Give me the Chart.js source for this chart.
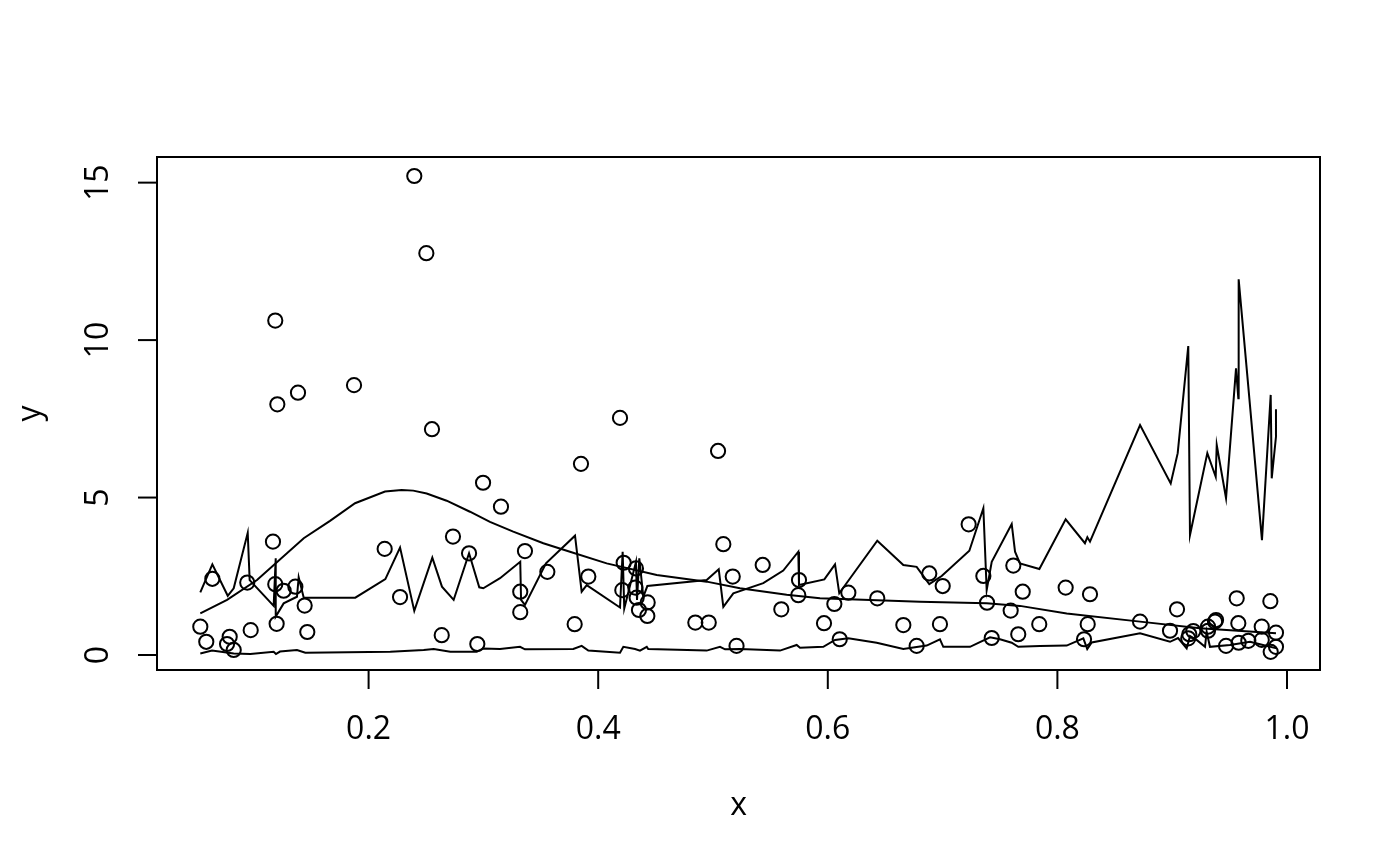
<!DOCTYPE html>
<html>
<head>
<meta charset="utf-8">
<script src="https://cdn.jsdelivr.net/npm/chart.js@4.4.1/dist/chart.umd.min.js"></script>
<style>
  html, body { margin: 0; padding: 0; background: #fff; }
  canvas { display: block; }
</style>
</head>
<body>
<canvas id="plot" width="1400" height="866"></canvas>
<script>
// observed points
const pointX = [0.2398, 0.2503, 0.1187, 0.1205, 0.1385, 0.1873, 0.2552, 0.4190, 0.5044, 0.3850,
  0.2997, 0.3153, 0.7227, 0.2735, 0.1167, 0.2140, 0.3362, 0.5090, 0.2875, 0.0639,
  0.0943, 0.1187, 0.1260, 0.1362, 0.1443, 0.2274, 0.0534, 0.0586, 0.0790, 0.0767,
  0.0825, 0.0973, 0.1199, 0.1466, 0.2637, 0.3321, 0.3557, 0.3321, 0.3914, 0.3795,
  0.4222, 0.4329, 0.4210, 0.4323, 0.4335, 0.4431, 0.4355, 0.4428, 0.4846, 0.4963,
  0.5172, 0.2947, 0.5205, 0.5433, 0.5749, 0.5743, 0.5595, 0.6057, 0.5967, 0.6179,
  0.6431, 0.6104, 0.6658, 0.6977, 0.6774, 0.6884, 0.7001, 0.7355, 0.7387, 0.7593,
  0.7616, 0.7428, 0.7659, 0.7698, 0.7842, 0.8072, 0.8284, 0.8264, 0.8232, 0.8720,
  0.9042, 0.8981, 0.9149, 0.9140, 0.9184, 0.9312, 0.9312, 0.9382, 0.9373, 0.9469,
  0.9562, 0.9576, 0.9579, 0.9663, 0.9780, 0.9780, 0.9855, 0.9904, 0.9904, 0.9858];
const pointY = [15.21, 12.76, 10.62, 7.96, 8.33, 8.57, 7.17, 7.53, 6.48, 6.07,
  5.47, 4.71, 4.15, 3.76, 3.60, 3.37, 3.30, 3.52, 3.23, 2.42,
  2.30, 2.25, 2.04, 2.17, 1.57, 1.84, 0.90, 0.42, 0.58, 0.35,
  0.16, 0.79, 0.99, 0.73, 0.63, 2.01, 2.64, 1.36, 2.49, 0.98,
  2.93, 2.75, 2.06, 2.14, 1.82, 1.67, 1.43, 1.24, 1.03, 1.03,
  2.49, 0.35, 0.29, 2.86, 2.38, 1.90, 1.45, 1.62, 1.01, 1.98,
  1.80, 0.50, 0.95, 0.98, 0.29, 2.59, 2.19, 2.51, 1.66, 1.41,
  2.84, 0.54, 0.66, 2.01, 0.98, 2.14, 1.93, 0.98, 0.50, 1.06,
  1.45, 0.77, 0.66, 0.53, 0.76, 0.77, 0.90, 1.11, 1.06, 0.29,
  1.80, 1.01, 0.39, 0.45, 0.90, 0.48, 1.71, 0.71, 0.26, 0.10];

// upper jagged line
const upperX = [0.0534, 0.0639, 0.0773, 0.0825, 0.0947, 0.0964, 0.1173, 0.1191, 0.1191, 0.1260,
  0.1376, 0.1391, 0.1435, 0.1884, 0.2146, 0.2274, 0.2398, 0.2555, 0.2639, 0.2741,
  0.2875, 0.2964, 0.2999, 0.3145, 0.3321, 0.3328, 0.3362, 0.3545, 0.3798, 0.3856,
  0.3900, 0.4190, 0.4213, 0.4227, 0.4329, 0.4338, 0.4358, 0.4393, 0.4428, 0.4945,
  0.5050, 0.5090, 0.5177, 0.5438, 0.5612, 0.5743, 0.5749, 0.5970, 0.6063, 0.6100,
  0.6431, 0.6658, 0.6774, 0.6884, 0.6992, 0.7233, 0.7355, 0.7384, 0.7428, 0.7602,
  0.7631, 0.7674, 0.7843, 0.8072, 0.8240, 0.8261, 0.8284, 0.8720, 0.8987, 0.9048,
  0.9140, 0.9155, 0.9306, 0.9379, 0.9388, 0.9469, 0.9556, 0.9576, 0.9579, 0.9663,
  0.9782, 0.9858, 0.9867, 0.9904, 0.9904];
const upperY = [1.99, 2.88, 1.88, 2.12, 3.88, 2.38, 1.56, 3.07, 1.22, 1.64,
  1.85, 2.47, 1.82, 1.82, 2.41, 3.41, 1.40, 3.09, 2.17, 1.75,
  3.23, 2.15, 2.12, 2.44, 2.96, 1.75, 1.59, 2.91, 3.79, 2.01,
  2.22, 1.51, 3.28, 1.48, 2.95, 1.75, 3.07, 1.85, 2.19, 2.38,
  2.72, 1.53, 1.96, 2.28, 2.68, 3.28, 2.22, 2.40, 2.88, 1.96,
  3.63, 2.86, 2.80, 2.25, 2.51, 3.31, 4.66, 2.06, 2.96, 4.16,
  3.28, 2.91, 2.73, 4.31, 3.55, 3.74, 3.60, 7.30, 5.45, 6.41,
  9.81, 3.81, 6.41, 5.66, 6.67, 4.98, 9.10, 8.15, 11.93, 8.52,
  3.65, 8.26, 5.61, 6.93, 7.80];

// smooth middle curve
const midX = [0.0534, 0.0767, 0.1028, 0.1435, 0.1664, 0.1882, 0.2143, 0.2288, 0.2389, 0.2506,
  0.2680, 0.2883, 0.3057, 0.3260, 0.3522, 0.3754, 0.4074, 0.4510, 0.4945, 0.5235,
  0.5642, 0.5932, 0.6368, 0.6803, 0.7384, 0.7674, 0.8081, 0.8720, 0.9242, 0.9904];
const midY = [1.32, 1.75, 2.38, 3.71, 4.26, 4.82, 5.19, 5.24, 5.22, 5.13,
  4.90, 4.55, 4.23, 3.92, 3.55, 3.28, 2.91, 2.54, 2.33, 2.12,
  1.91, 1.80, 1.75, 1.69, 1.64, 1.56, 1.32, 1.06, 0.85, 0.69];

// lower line
const lowerX = [0.0534, 0.0636, 0.0825, 0.0970, 0.1173, 0.1193, 0.1228, 0.1376, 0.1449, 0.2189,
  0.2480, 0.2567, 0.2712, 0.2942, 0.2999, 0.3145, 0.3319, 0.3362, 0.3783, 0.3856,
  0.3914, 0.4190, 0.4219, 0.4321, 0.4364, 0.4423, 0.4436, 0.4945, 0.5061, 0.5105,
  0.5235, 0.5584, 0.5729, 0.5758, 0.5961, 0.6063, 0.6179, 0.6426, 0.6658, 0.6861,
  0.6977, 0.7006, 0.7239, 0.7413, 0.7500, 0.7602, 0.7659, 0.7848, 0.8081, 0.8226,
  0.8260, 0.8299, 0.8720, 0.8981, 0.9051, 0.9126, 0.9155, 0.9213, 0.9286, 0.9300,
  0.9329, 0.9503, 0.9678, 0.9791, 0.9910];
const lowerY = [0.05, 0.14, 0.05, 0.03, 0.10, 0.03, 0.11, 0.16, 0.07, 0.10,
  0.16, 0.19, 0.10, 0.10, 0.21, 0.19, 0.26, 0.18, 0.19, 0.29,
  0.14, 0.07, 0.26, 0.19, 0.14, 0.26, 0.19, 0.14, 0.26, 0.18,
  0.19, 0.14, 0.32, 0.23, 0.26, 0.48, 0.53, 0.39, 0.19, 0.30,
  0.50, 0.26, 0.26, 0.56, 0.50, 0.39, 0.26, 0.29, 0.30, 0.53,
  0.19, 0.40, 0.69, 0.42, 0.54, 0.21, 0.60, 0.48, 0.26, 0.74,
  0.26, 0.32, 0.42, 0.32, 0.21];

const xTicks = [0.2, 0.4, 0.6, 0.8, 1.0];
const xTickLabels = ["0.2", "0.4", "0.6", "0.8", "1.0"];
const yTicks = [0, 5, 10, 15];
const yTickLabels = ["0", "5", "10", "15"];
const xTitle = "x";
const yTitle = "y";

const FONT = '32px "Open Sans", "DejaVu Sans", sans-serif';

function pairs(xs, ys) {
  return xs.map((x, i) => ({ x, y: ys[i] }));
}

function lineSet(xs, ys) {
  return {
    data: pairs(xs, ys),
    showLine: true,
    borderColor: "#000",
    borderWidth: 2,
    pointRadius: 0,
    tension: 0,
    fill: false,
  };
}

// R-style box, outward ticks and rotated y labels
const rAxes = {
  id: "rAxes",
  afterDraw(chart) {
    const ctx = chart.ctx;
    const area = chart.chartArea;
    const xs = chart.scales.x, ys = chart.scales.y;
    const tick = 19;
    ctx.save();
    ctx.strokeStyle = "#000";
    ctx.lineWidth = 2;
    ctx.strokeRect(area.left, area.top, area.right - area.left, area.bottom - area.top);

    ctx.fillStyle = "#000";
    ctx.font = FONT;

    // x axis
    const xl = xs.getPixelForValue(xTicks[0]), xr = xs.getPixelForValue(xTicks[xTicks.length - 1]);
    ctx.beginPath();
    ctx.moveTo(xl, area.bottom);
    ctx.lineTo(xr, area.bottom);
    ctx.stroke();
    ctx.textAlign = "center";
    ctx.textBaseline = "middle";
    xTicks.forEach((v, i) => {
      const px = xs.getPixelForValue(v);
      ctx.beginPath();
      ctx.moveTo(px, area.bottom);
      ctx.lineTo(px, area.bottom + tick);
      ctx.stroke();
      ctx.fillText(xTickLabels[i], px, 730);
    });
    ctx.fillText(xTitle, (area.left + area.right) / 2, 806);

    // y axis
    const yb = ys.getPixelForValue(yTicks[0]), yt = ys.getPixelForValue(yTicks[yTicks.length - 1]);
    ctx.beginPath();
    ctx.moveTo(area.left, yb);
    ctx.lineTo(area.left, yt);
    ctx.stroke();
    yTicks.forEach((v, i) => {
      const py = ys.getPixelForValue(v);
      ctx.beginPath();
      ctx.moveTo(area.left, py);
      ctx.lineTo(area.left - tick, py);
      ctx.stroke();
      ctx.save();
      ctx.translate(99, py);
      ctx.rotate(-Math.PI / 2);
      ctx.fillText(yTickLabels[i], 0, 0);
      ctx.restore();
    });
    ctx.save();
    ctx.translate(31, (area.top + area.bottom) / 2);
    ctx.rotate(-Math.PI / 2);
    ctx.fillText(yTitle, 0, 0);
    ctx.restore();
    ctx.restore();
  },
};

new Chart(document.getElementById("plot"), {
  type: "scatter",
  data: {
    datasets: [
      {
        data: pairs(pointX, pointY),
        pointStyle: "circle",
        pointRadius: 7.1,
        pointBorderWidth: 2,
        pointBorderColor: "#000",
        pointBackgroundColor: "rgba(0,0,0,0)",
        showLine: false,
      },
      lineSet(upperX, upperY),
      lineSet(midX, midY),
      lineSet(lowerX, lowerY),
    ],
  },
  options: {
    responsive: false,
    animation: false,
    devicePixelRatio: 1,
    layout: { padding: { left: 157, top: 157, right: 80, bottom: 196 } },
    plugins: { legend: { display: false }, tooltip: { enabled: false } },
    events: [],
    scales: {
      x: { type: "linear", min: 0.01568, max: 1.02875, display: false },
      y: { type: "linear", min: -0.476, max: 15.814, display: false },
    },
  },
  plugins: [rAxes],
});
</script>
</body>
</html>
